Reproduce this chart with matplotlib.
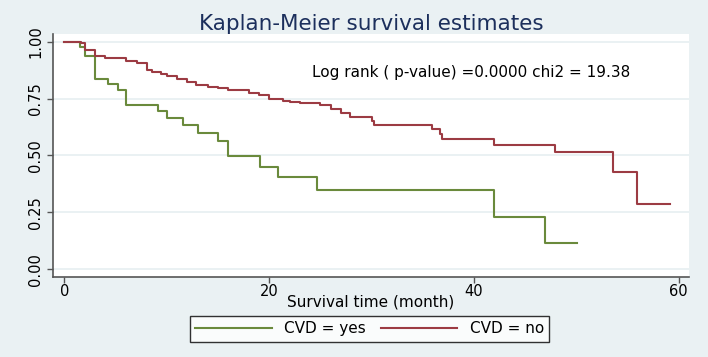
import matplotlib
matplotlib.use("Agg")
import matplotlib.pyplot as plt
import numpy as np

# survival estimates
yes_t = [0, 1.5, 2.0, 3.0, 4.3, 5.2, 6.0, 9.1, 10.0, 11.6, 13.1, 15.0, 16.0,
         19.1, 20.9, 24.7, 42.0, 46.9, 50.1]
yes_s = [1.0, 0.979, 0.938, 0.837, 0.815, 0.790, 0.721, 0.696, 0.667, 0.634,
         0.601, 0.564, 0.496, 0.451, 0.405, 0.347, 0.230, 0.116, 0.116]

no_t = [0, 1.6, 2.0, 3.0, 4.0, 6.0, 7.1, 8.1, 8.6, 9.4, 10.0, 11.0, 12.0,
        12.9, 14.0, 15.0, 16.0, 18.0, 19.0, 20.0, 21.4, 22.0, 23.0, 25.0,
        26.0, 27.0, 27.9, 30.0, 30.2, 35.9, 36.7, 36.9, 42.0, 47.9, 53.6,
        55.9, 59.2]
no_s = [1.0, 0.993, 0.965, 0.938, 0.930, 0.916, 0.906, 0.877, 0.868, 0.859,
        0.850, 0.836, 0.823, 0.808, 0.802, 0.798, 0.787, 0.777, 0.767, 0.749,
        0.740, 0.734, 0.730, 0.721, 0.703, 0.686, 0.671, 0.652, 0.633, 0.615,
        0.593, 0.573, 0.546, 0.514, 0.429, 0.286, 0.286]

yticks = [0.0, 0.25, 0.5, 0.75, 1.0]
xticks = [0, 20, 40, 60]

bg = "#eaf1f3"
green = "#6a8a3c"
red = "#9c3b43"

fig = plt.figure(figsize=(7.08, 3.57), dpi=100, facecolor=bg)
ax = fig.add_axes([0.075, 0.224, 0.898, 0.681])
ax.set_facecolor("white")

for y in yticks:
    ax.axhline(y, color="#e6eff1", lw=1.2, zorder=0)

ax.step(yes_t, yes_s, where="post", color=green, lw=1.5, label="CVD = yes")
ax.step(no_t, no_s, where="post", color=red, lw=1.5, label="CVD = no")

ax.set_xlim(-1.1, 61)
ax.set_ylim(-0.035, 1.035)
ax.set_xticks(xticks)
ax.set_yticks(yticks)
ax.set_yticklabels(["0.00", "0.25", "0.50", "0.75", "1.00"], rotation=90,
                   va="center")
ax.tick_params(axis="both", labelsize=10.5, color="#555555", length=4,
               width=1)
ax.tick_params(axis="x", pad=1)
ax.tick_params(axis="y", pad=3)
for s in ["top", "right"]:
    ax.spines[s].set_visible(False)
for s in ["left", "bottom"]:
    ax.spines[s].set_color("#555555")
    ax.spines[s].set_linewidth(1.2)

ax.set_xlabel("Survival time (month)", fontsize=11, labelpad=-3)
ax.set_title("Kaplan-Meier survival estimates", fontsize=15.5,
             color="#1c2f5c", pad=3)

ax.text(24.2, 0.863, "Log rank ( p-value) =0.0000 chi2 = 19.38",
        fontsize=11, va="center", ha="left")

leg = fig.legend(loc="center", bbox_to_anchor=(0.522, 0.079), ncol=2,
                 frameon=True, fancybox=False, fontsize=11, handlelength=5.0,
                 columnspacing=1.0, borderpad=0.35, handletextpad=0.8)
leg.get_frame().set_edgecolor("black")
leg.get_frame().set_linewidth(1)

fig.savefig("out.png", dpi=100, facecolor=bg)
